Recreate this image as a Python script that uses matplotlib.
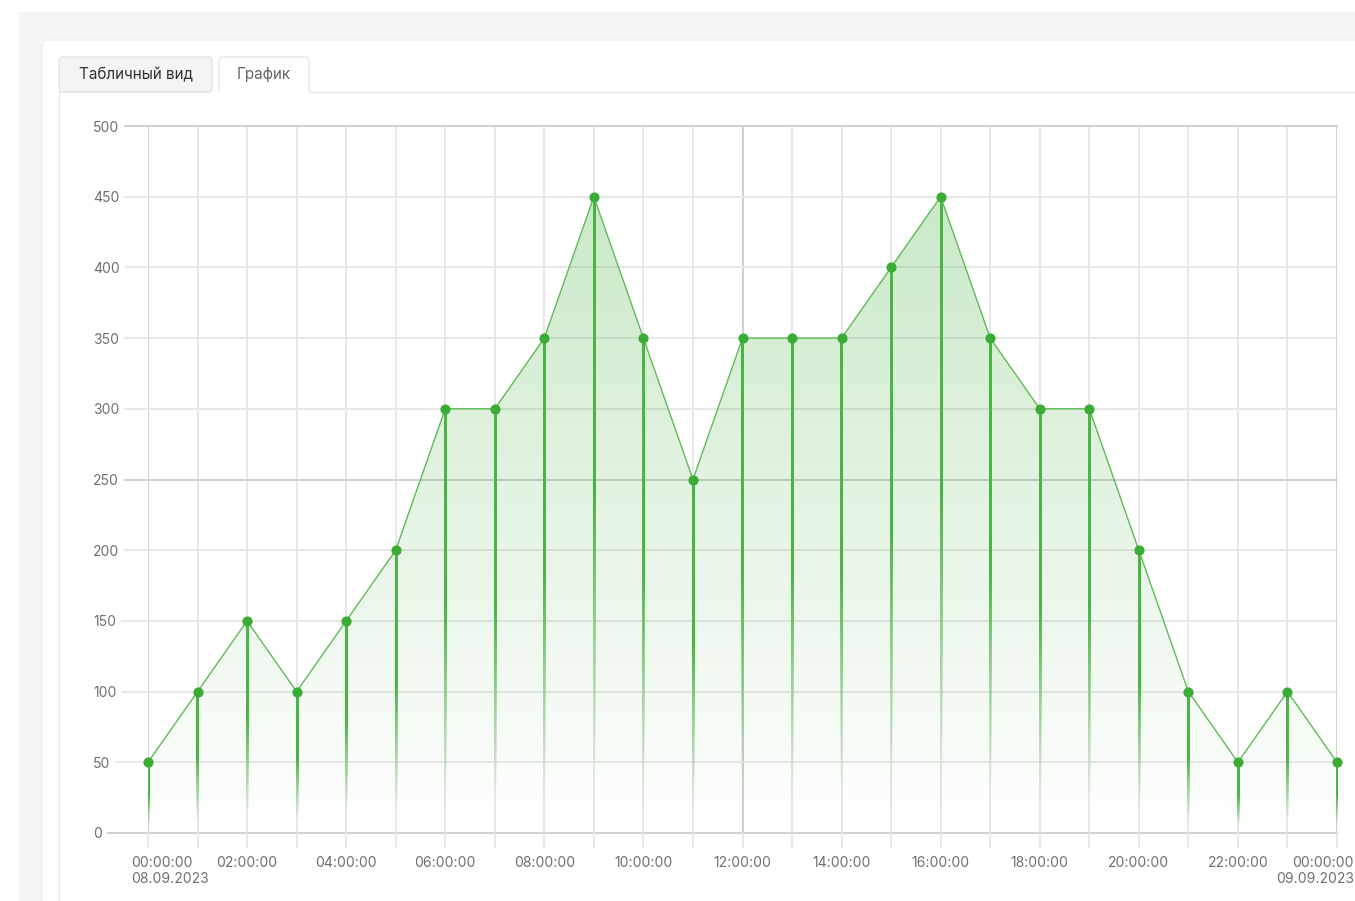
import numpy as np
import matplotlib
matplotlib.use("Agg")
import matplotlib.pyplot as plt
from matplotlib.patches import Rectangle, FancyBboxPatch
from matplotlib.lines import Line2D
from matplotlib.transforms import IdentityTransform, ScaledTranslation, blended_transform_factory

plt.rcParams['font.family'] = ['Inter', 'DejaVu Sans']

# Hourly values for 08.09.2023 00:00 .. 09.09.2023 00:00
hours = list(range(25))
values = [50, 100, 150, 100, 150, 200, 300, 300, 350, 450, 350, 250, 350,
          350, 350, 400, 450, 350, 300, 300, 200, 100, 50, 100, 50]
x_tick_hours = list(range(0, 25, 2))
x_tick_labels = ["00:00:00\n08.09.2023", "02:00:00", "04:00:00", "06:00:00",
                 "08:00:00", "10:00:00", "12:00:00", "14:00:00", "16:00:00",
                 "18:00:00", "20:00:00", "22:00:00", "00:00:00\n09.09.2023"]
y_ticks = [0, 50, 100, 150, 200, 250, 300, 350, 400, 450, 500]
tab_labels = ["Табличный вид", "График"]

W, H = 1355, 901
fig = plt.figure(figsize=(W / 100, H / 100), dpi=100, facecolor="white")
px = IdentityTransform()


def dy(y):
    # screen y (from top) -> display y (from bottom)
    return H - y


# page background, card and tab panel
fig.patches.append(Rectangle((19, 0), W, dy(12), transform=px,
                             facecolor="#f5f5f5", edgecolor="none", zorder=0))
fig.patches.append(FancyBboxPatch((42, -20), W, dy(40) + 20, transform=px,
                                  boxstyle="round,pad=0,rounding_size=5",
                                  facecolor="white", edgecolor="#ececec",
                                  linewidth=0.8, zorder=1))
fig.patches.append(FancyBboxPatch((59, dy(92)), 153, 35, transform=px,
                                  boxstyle="round,pad=0,rounding_size=3",
                                  facecolor="#f4f4f4", edgecolor="#e2e2e2",
                                  linewidth=0.9, zorder=2))
fig.patches.append(FancyBboxPatch((219, dy(92)), 90, 35, transform=px,
                                  boxstyle="round,pad=0,rounding_size=3",
                                  facecolor="white", edgecolor="#e2e2e2",
                                  linewidth=0.9, zorder=2))
fig.lines.append(Line2D([220, 308], [dy(92), dy(92)], transform=px,
                        color="white", linewidth=1.5, zorder=3))
fig.lines.append(Line2D([309, W], [dy(92), dy(92)], transform=px,
                        color="#e6e6e6", linewidth=0.9, zorder=3))
fig.lines.append(Line2D([59, 59], [dy(92), 0], transform=px,
                        color="#e6e6e6", linewidth=0.9, zorder=3))
fig.text(136 / W, 1 - 75 / H, tab_labels[0], ha="center", va="center",
         fontsize=11, color="#333333", zorder=4)
fig.text(264 / W, 1 - 75 / H, tab_labels[1], ha="center", va="center",
         fontsize=11, color="#666666", zorder=4)

# plot area
ax = fig.add_axes([148 / W, 1 - 833 / H, (1337 - 148) / W, (833 - 126) / H])
ax.set_zorder(5)
ax.patch.set_visible(False)
for s in ax.spines.values():
    s.set_visible(False)

light, dark = "#e8e8e8", "#d0d0d0"
grid_lw = 1.4

# vertical grid
for h in hours:
    ax.axvline(h, color=dark if h % 12 == 0 else light, lw=grid_lw, zorder=1)

green = np.array([0.24, 0.68, 0.21])
stem_green = np.array([0.29, 0.71, 0.26])

# gradient area under the line
poly = ax.fill_between(hours, values, 0, facecolor="none", edgecolor="none")
grad = np.zeros((256, 2, 4))
grad[..., :3] = green
grad[..., 3] = np.linspace(0.30, 0.0, 256)[:, None]
img = ax.imshow(grad, extent=[0, 24, 0, 500], aspect="auto", zorder=2,
                interpolation="bilinear", origin="upper")
img.set_clip_path(poly.get_paths()[0], transform=ax.transData)

# stems fading toward the baseline
stem_half = 1.1 * 24 / (1337 - 148)   # half of a ~2.2 px stem, in hours
frac = np.linspace(1, 0, 200)
stem = np.zeros((200, 1, 4))
stem[..., :3] = stem_green
stem[..., 3] = (np.clip((frac - 0.08) / 0.45, 0, 1) ** 1.2)[:, None]
for h, v in zip(hours, values):
    ax.imshow(stem, extent=[h - stem_half, h + stem_half, 0, v], aspect="auto",
              interpolation="bilinear", origin="upper", zorder=3)

# line and points
ax.plot(hours, values, color="#5fbb58", lw=1.0, zorder=4)
ax.plot(hours, values, "o", color="#3aab34", markersize=6.3, zorder=5, clip_on=False)

ax.set_xlim(0, 24)
ax.set_ylim(0, 500)

# x ticks every hour, labels every two hours
ax.set_xticks(hours)
ax.set_xticklabels([x_tick_labels[x_tick_hours.index(h)] if h in x_tick_hours else ""
                    for h in hours])
ax.tick_params(axis="x", length=10.8, width=grid_lw, pad=5.5, color=light,
               labelsize=10, labelcolor="#6f6f6f", direction="out")
labels = ax.get_xticklabels()
first, last = labels[0], labels[-1]
first.set_ha("left")
first.set_multialignment("left")
first.set_transform(first.get_transform() + ScaledTranslation(-17 / 100, 0, fig.dpi_scale_trans))
last.set_ha("right")
last.set_multialignment("right")
last.set_transform(last.get_transform() + ScaledTranslation(17 / 100, 0, fig.dpi_scale_trans))

# y labels, left aligned
ax.set_yticks(y_ticks)
ax.set_yticklabels([str(v) for v in y_ticks])
ax.tick_params(axis="y", length=0, pad=39.6, labelsize=10, labelcolor="#6f6f6f")
for lab in ax.get_yticklabels():
    lab.set_ha("left")

fig.canvas.draw()
for h, t in zip(hours, ax.xaxis.get_major_ticks()):
    if h % 12 == 0:
        t.tick1line.set_color(dark)

# horizontal grid starts just after each label
renderer = fig.canvas.get_renderer()
gtrans = blended_transform_factory(px, ax.transData)
x_right = ax.transData.transform((24, 0))[0]
for v, lab in zip(y_ticks, ax.get_yticklabels()):
    x0 = lab.get_window_extent(renderer).x1 + 6
    ax.add_line(Line2D([x0, x_right], [v, v], transform=gtrans, clip_on=False,
                       color=dark if v % 250 == 0 else light, lw=grid_lw, zorder=1))

fig.savefig("out.png", dpi=100, facecolor="white")
